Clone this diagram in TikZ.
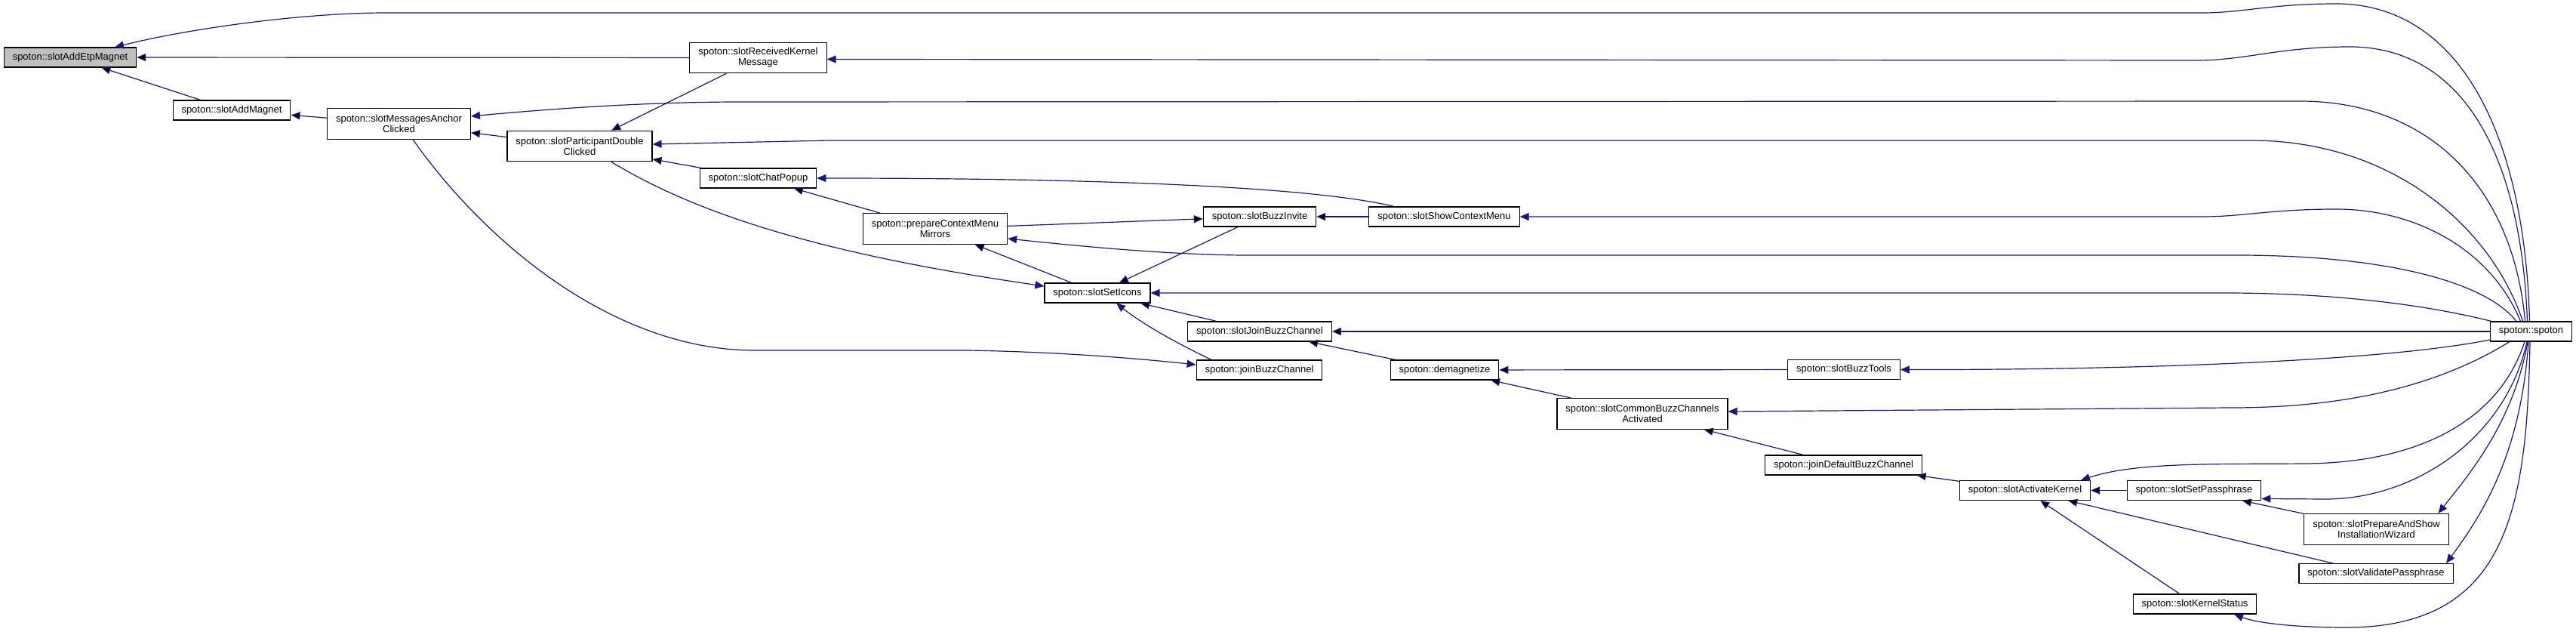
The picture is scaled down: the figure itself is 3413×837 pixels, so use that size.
\documentclass[tikz,border=0pt]{standalone}
\usepackage{fontspec}
\newfontfamily\dxfont{Liberation Sans}
\usetikzlibrary{arrows.meta,calc}
\definecolor{midnightblue}{RGB}{25,25,112}
\definecolor{startgray}{RGB}{191,191,191}

\begin{document}
\begin{tikzpicture}[x=0.75pt, y=-0.75pt,
    fn/.style = {draw, line width=0.8pt, fill=white, inner xsep=8.6pt, inner ysep=2pt,
                 minimum height=19.5pt, align=center, font=\dxfont\fontsize{9.75}{10.5}\selectfont},
    fntwo/.style = {fn, minimum height=30.5pt},
    start/.style = {fill=startgray},
    call/.style = {draw=midnightblue, line width=0.9pt, -{Triangle[length=9pt, width=7.5pt]}}]
    \useasboundingbox (0,0) rectangle (3413,837);

    \node[fn, start] (AddEtp) at (93,76) {spoton::slotAddEtpMagnet};
    \node[fntwo] (RecvKernel) at (1004.5,76.5) {spoton::slotReceivedKernel\\Message};
    \node[fn] (AddMagnet) at (307,146) {spoton::slotAddMagnet};
    \node[fntwo] (MsgAnchor) at (528.5,164) {spoton::slotMessagesAnchor\\Clicked};
    \node[fntwo] (PartDouble) at (768,193.5) {spoton::slotParticipantDouble\\Clicked};
    \node[fn] (ChatPopup) at (1004.5,236) {spoton::slotChatPopup};
    \node[fntwo] (PrepCtx) at (1239,303) {spoton::prepareContextMenu\\Mirrors};
    \node[fn] (BuzzInvite) at (1669,287) {spoton::slotBuzzInvite};
    \node[fn] (ShowCtx) at (1913.5,287) {spoton::slotShowContextMenu};
    \node[fn] (SetIcons) at (1454,388) {spoton::slotSetIcons};
    \node[fn] (JoinBuzzSlot) at (1669,439) {spoton::slotJoinBuzzChannel};
    \node[fn] (JoinBuzz) at (1668.5,490) {spoton::joinBuzzChannel};
    \node[fn] (Demag) at (1914,490) {spoton::demagnetize};
    \node[fn] (BuzzTools) at (2443,489.5) {spoton::slotBuzzTools};
    \node[fntwo] (CommonBuzz) at (2176,548) {spoton::slotCommonBuzzChannels\\Activated};
    \node[fn] (JoinDefault) at (2442.5,616) {spoton::joinDefaultBuzzChannel};
    \node[fn] (ActKernel) at (2683,649.5) {spoton::slotActivateKernel};
    \node[fn] (SetPass) at (2907,649.5) {spoton::slotSetPassphrase};
    \node[fntwo] (PrepShow) at (3148.5,700.7) {spoton::slotPrepareAndShow\\InstallationWizard};
    \node[fn] (ValidPass) at (3148,759.5) {spoton::slotValidatePassphrase};
    \node[fn] (KernelStatus) at (2908,800) {spoton::slotKernelStatus};
    \node[fn] (Spoton) at (3353.5,439) {spoton::spoton};

    % straight calls
    \path[call] (RecvKernel) edge (AddEtp);
    \path[call] (AddMagnet) edge (AddEtp);
    \path[call] (MsgAnchor) edge (AddMagnet);
    \path[call] (PartDouble) edge (MsgAnchor);
    \path[call] (RecvKernel) edge (PartDouble);
    \path[call] (ChatPopup) edge (PartDouble);
    \path[call] (PrepCtx) edge (ChatPopup);
    \path[call] (PrepCtx) edge (BuzzInvite);
    \path[call] (ShowCtx) edge (BuzzInvite);
    \path[call] (BuzzInvite) edge (SetIcons);
    \path[call] (SetIcons) edge (PrepCtx);
    \path[call] (JoinBuzzSlot) edge (SetIcons);
    \path[call] (Demag) edge (JoinBuzzSlot);
    \path[call] (BuzzTools) edge (Demag);
    \path[call] (CommonBuzz) edge (Demag);
    \path[call] (JoinDefault) edge (CommonBuzz);
    \path[call] (ActKernel) edge (JoinDefault);
    \path[call] (SetPass) edge (ActKernel);
    \path[call] (PrepShow) edge (SetPass);
    \path[call] (ValidPass) edge (ActKernel);
    \path[call] (KernelStatus) edge (ActKernel);
    \path[call] (Spoton) edge (JoinBuzzSlot);

    % curved calls
    \draw[call] ($(PartDouble.south)+(42,0)$) .. controls (950,300) and (1150,345) .. ($(SetIcons.west)+(0,-9)$);
    \draw[call] ($(MsgAnchor.south)+(18.5,0)$) .. controls (650,330) and (820,464) .. (1000,464) -- (1282,464)
        .. controls (1400,466) and (1500,474) .. ($(JoinBuzz.west)+(0,-7)$);
    \draw[call] ($(ShowCtx.north)+(-66.5,0)$) .. controls (1750,250) and (1500,236) .. (ChatPopup.east);
    \draw[call] ($(JoinBuzz.north)+(-63.5,0)$) .. controls (1560,455) and (1515,430) .. ($(SetIcons.south)+(25,0)$);

    % calls from spoton::spoton
    \draw[call] ($(Spoton.north)+(-2,0)$) .. controls (3345,180) and (3260,5) .. (3095,5)
        .. controls (3010,5) and (2970,17) .. (2919,17) -- (512,17)
        .. controls (400,17) and (250,38) .. ($(AddEtp.north)+(59,0)$);
    \draw[call] ($(Spoton.north)+(-5,0)$) .. controls (3340,200) and (3260,62) .. (3113,62)
        .. controls (3020,62) and (2975,80) .. (2910,80) -- ($(RecvKernel.east)+(0,2)$);
    \draw[call] ($(Spoton.north)+(-8,0)$) .. controls (3330,250) and (3220,133) .. (3045,134)
        -- (982,135) .. controls (850,135) and (720,145) .. ($(MsgAnchor.east)+(0,-10)$);
    \draw[call] ($(Spoton.north)+(-11,0)$) .. controls (3300,300) and (3170,186) .. (2982,186)
        -- (1100,186) -- ($(PartDouble.east)+(0,-2.5)$);
    \draw[call] ($(Spoton.north)+(-14,0)$) .. controls (3300,330) and (3200,277) .. (3095,277)
        .. controls (3010,277) and (2970,287) .. (2919,287) -- (ShowCtx.east);
    \draw[call] ($(Spoton.north)+(-19.5,0)$) .. controls (3290,370) and (3150,338) .. (2964,338)
        -- (1654,338) .. controls (1550,338) and (1420,325) .. ($(PrepCtx.east)+(0,13)$);
    \draw[call] ($(Spoton.north west)+(2,0)$) .. controls (3220,405) and (3100,388) .. (2946,388) -- (SetIcons.east);
    \draw[call] ($(Spoton.west)+(0,11)$) .. controls (3150,480) and (2800,490) .. (BuzzTools.east);
    \draw[call] ($(Spoton.south)+(-28.5,0)$) .. controls (3200,530) and (3050,540) .. (2955,540)
        -- ($(CommonBuzz.east)+(0,-3)$);
    \draw[call] ($(Spoton.south)+(-8.5,0)$) .. controls (3310,560) and (3200,613) .. (3054,614)
        .. controls (2930,615) and (2830,612) .. ($(ActKernel.north)+(74,0)$);
    \draw[call] ($(Spoton.south)+(-5.5,0)$) .. controls (3320,580) and (3200,661) .. (3081,661)
        -- ($(SetPass.east)+(0,11)$);
    \draw[call] ($(Spoton.south)+(-4.5,0)$) .. controls (3330,560) and (3270,630) .. ($(PrepShow.north)+(82,0)$);
    \draw[call] ($(Spoton.south)+(-3.5,0)$) .. controls (3340,600) and (3290,680) .. ($(ValidPass.north)+(93,0)$);
    \draw[call] ($(Spoton.south)+(-1.5,0)$) .. controls (3348,680) and (3320,831) .. (3108,831)
        .. controls (3040,831) and (2990,825) .. ($(KernelStatus.south)+(52,0)$);
\end{tikzpicture}
\end{document}
